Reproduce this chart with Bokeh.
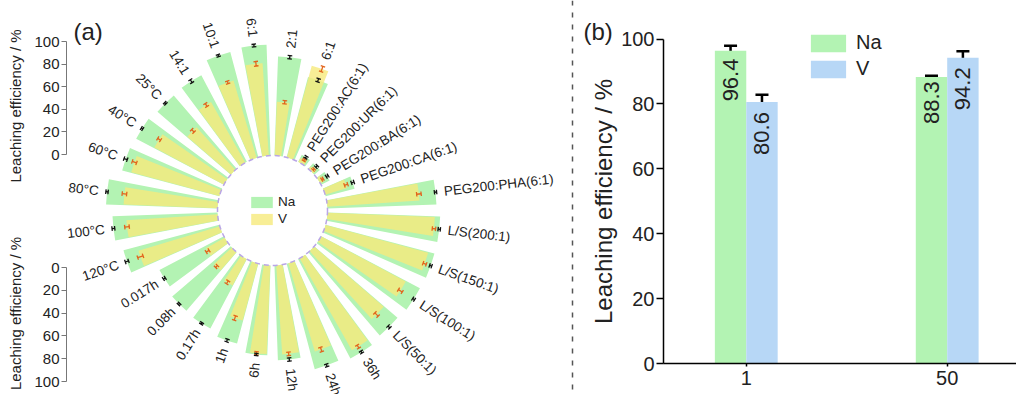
import numpy as np
from bokeh.plotting import figure
from bokeh.models import (ColumnDataSource, Range1d, FixedTicker, Span,
                          Whisker, TeeHead, Spacer)
from bokeh.layouts import row, column
from bokeh.embed import file_html
from bokeh.resources import INLINE
from bokeh.core.properties import value

# ---------------- data: panel (a) (counter-clockwise, starting right of top) -------------
categories = ["2:1", "6:1", "10:1", "14:1", "25°C", "40°C", "60°C", "80°C", "100°C", "120°C",
              "0.017h", "0.08h", "0.17h", "1h", "6h", "12h", "24h", "36h",
              "L/S(50:1)", "L/S(100:1)", "L/S(150:1)", "L/S(200:1)",
              "PEG200:PHA(6:1)", "PEG200:CA(6:1)", "PEG200:BA(6:1)", "PEG200:UR(6:1)",
              "PEG200:AC(6:1)", "6:1"]
na = [87.8, 98.2, 96.5, 86.5, 85.5, 87.7, 89.0, 98.7, 93.0, 87.8,
      64.4, 68.3, 69.3, 73.2, 79.5, 84.0, 96.6, 99.3,
      97.1, 98.8, 99.6, 99.8,
      96.5, 26.5, 8.5, 6.5, 7.0, 73.5]
v = [47.7, 82.0, 71.4, 61.6, 51.0, 69.8, 80.8, 83.2, 80.9, 75.2,
     19.1, 21.4, 26.4, 52.1, 78.5, 79.0, 81.6, 93.6,
     81.5, 84.9, 94.0, 95.1,
     81.7, 20.3, 3.5, 2.8, 4.0, 84.0]
na_err = [1.5, 1.2, 1.0, 1.5, 0.8, 0.8, 1.5, 1.0, 1.2, 1.5,
          1.0, 0.8, 0.8, 1.2, 1.0, 1.5, 1.2, 1.0,
          1.2, 1.0, 1.0, 1.0,
          1.0, 1.2, 1.0, 1.0, 1.0, 1.5]
v_err = [1.5, 2.0, 1.2, 1.5, 1.5, 1.5, 2.0, 2.0, 2.0, 2.5,
         1.5, 1.2, 1.5, 2.0, 1.5, 1.5, 2.0, 1.5,
         2.0, 2.0, 1.5, 1.5,
         2.0, 1.5, 0.8, 0.8, 0.8, 2.5]
radial_ticks = [0, 20, 40, 60, 80, 100]

# ---------------- data: panel (b) ----------------
groups = ["1", "50"]
na_b = [96.4, 88.3]
v_b = [80.6, 94.2]
na_b_err = [1.5, 0.4]
v_b_err = [2.2, 2.0]
y_ticks_b = [0, 20, 40, 60, 80, 100]
y_title = "Leaching efficiency / %"

FONT = "Liberation Sans"
GREEN = "#b3f3b3"
YELLOW = "#f6ea7c"
BLUE = "#b7d7f6"
TXT = "#222222"

# ---------------- layout geometry (page px) ----------------
TOP, BOTTOM = 0, 394
S = 1.13                 # px per % in panel (a)
CX, CY = 272, 210        # polar centre
R0 = 55 / S              # inner radius (data units)
AX_LEFT, PA_LEFT, PA_RIGHT, PB_RIGHT = 0, 67, 618, 1016
AXIS_X = 66


def axis_fig(height, y_start, y_end):
    f = figure(width=PA_LEFT - AX_LEFT, height=height,
               x_range=Range1d(0, 1), y_range=Range1d(y_start, y_end),
               x_axis_type=None, min_border_left=AXIS_X - AX_LEFT,
               min_border_right=0, min_border_top=0, min_border_bottom=0,
               output_backend="svg", toolbar_location=None,
               outline_line_color=None)
    f.grid.visible = False
    ax = f.yaxis[0]
    ax.bounds = (0, 100)
    ax.ticker = FixedTicker(ticks=radial_ticks)
    ax.axis_label = y_title
    ax.axis_label_text_font = FONT
    ax.axis_label_text_font_size = "15px"
    ax.axis_label_text_font_style = "normal"
    ax.axis_label_text_color = TXT
    ax.axis_label_standoff = 7
    ax.major_label_text_font = FONT
    ax.major_label_text_font_size = "15px"
    ax.major_label_text_color = TXT
    ax.major_label_standoff = 2
    ax.axis_line_color = "#777777"
    ax.major_tick_line_color = "#777777"
    ax.major_tick_out = 5
    ax.major_tick_in = 0
    ax.minor_tick_out = 0
    ax.minor_tick_in = 0
    return f


SPLIT1, SPLIT2 = 211, 232
top_ax = axis_fig(SPLIT1 - TOP, (154 - SPLIT1) / S, (154 - TOP) / S)
S2 = 1.14
bot_ax = axis_fig(BOTTOM - SPLIT2, (BOTTOM - 267) / S2, (SPLIT2 - 267) / S2)
axes_col = column(top_ax, Spacer(width=PA_LEFT - AX_LEFT, height=SPLIT2 - SPLIT1), bot_ax)

# ---------------- panel (a): polar bars ----------------
pa = figure(width=PA_RIGHT - PA_LEFT, height=BOTTOM - TOP,
            x_range=Range1d((PA_LEFT - CX) / S, (PA_RIGHT - CX) / S),
            y_range=Range1d((CY - BOTTOM) / S, (CY - TOP) / S),
            x_axis_type=None, y_axis_type=None, min_border=0,
            output_backend="svg", toolbar_location=None, outline_line_color=None)

n = len(categories)
step = 2 * np.pi / n
theta = np.pi / 2 - step / 2 + np.arange(n) * step
na_a = np.array(na)
v_a = np.array(v)
na_e = np.array(na_err)
v_e = np.array(v_err)

src = ColumnDataSource(dict(
    g_start=theta - 0.34 * step, g_end=theta + 0.34 * step,
    y_start=theta - 0.20 * step, y_end=theta + 0.32 * step,
    r_na=R0 + na_a, r_v=R0 + v_a))

pa.annular_wedge(x=0, y=0, inner_radius=R0, outer_radius="r_na",
                 start_angle="g_start", end_angle="g_end", source=src,
                 fill_color=GREEN, line_color=None, legend_label="Na")
pa.annular_wedge(x=0, y=0, inner_radius=R0, outer_radius="r_v",
                 start_angle="y_start", end_angle="y_end", source=src,
                 fill_color=YELLOW, fill_alpha=0.8, line_color=None, legend_label="V")

pa.circle(x=[0], y=[0], radius=R0, fill_color=None, line_color="#b9a6e6",
          line_dash="5 4", line_width=1.5)


def err_segments(vals, errs):
    c, s = np.cos(theta), np.sin(theta)
    lo, hi = R0 + vals - errs, R0 + vals + errs
    h = 2.3 / S
    x0 = np.concatenate([lo * c, lo * c - h * s, hi * c - h * s])
    y0 = np.concatenate([lo * s, lo * s + h * c, hi * s + h * c])
    x1 = np.concatenate([hi * c, lo * c + h * s, hi * c + h * s])
    y1 = np.concatenate([hi * s, lo * s - h * c, hi * s - h * c])
    return dict(x0=x0, y0=y0, x1=x1, y1=y1)


pa.segment(source=ColumnDataSource(err_segments(v_a, v_e)), x0="x0", y0="y0",
           x1="x1", y1="y1", line_color="#e2641c", line_width=1.3)
pa.segment(source=ColumnDataSource(err_segments(na_a, na_e)), x0="x0", y0="y0",
           x1="x1", y1="y1", line_color="#111111", line_width=1.3)

r_lab = R0 + np.maximum(na_a + na_e, v_a + v_e) + 6.5
cats = np.array(categories)
right = np.cos(theta) >= 0
for mask, align, shift in ((right, "left", 0.0), (~right, "right", np.pi)):
    pa.text(x=(r_lab * np.cos(theta))[mask], y=(r_lab * np.sin(theta))[mask],
            text=list(cats[mask]), angle=(theta - shift)[mask],
            text_align=align, text_baseline="middle",
            text_font=value(FONT), text_font_size="13.5px", text_color=TXT)

leg = pa.legend[0]
leg.location = (248 - PA_LEFT, BOTTOM - 226)
leg.padding = 0
leg.margin = 0
leg.spacing = 2
leg.border_line_color = None
leg.background_fill_alpha = 0
leg.glyph_width = 27
leg.glyph_height = 14
leg.label_height = 14
leg.label_standoff = 3
leg.label_text_font = FONT
leg.label_text_font_size = "13.5px"
leg.label_text_color = TXT

# panel letters, panel (b) y title and the separating dashed line (left of panel b frame)
pa.text(x=[(73 - CX) / S, (583 - CX) / S], y=[(CY - 31) / S] * 2, text=["(a)", "(b)"],
        text_align="left", text_baseline="middle", text_font=value(FONT),
        text_font_size="24px", text_color=TXT)
pa.text(x=[(603 - CX) / S], y=[(CY - 201) / S], text=[y_title], angle=np.pi / 2,
        text_align="center", text_baseline="middle", text_font=value(FONT),
        text_font_size="24px", text_color=TXT)
pa.add_layout(Span(location=(572 - CX) / S, dimension="height",
                   line_color="#555555", line_dash="5 7", line_width=1.5))

# ---------------- panel (b): grouped bars ----------------
FL, FT, FB = 662, 12, 363
G0, G1 = 745, 946.5
unit = G1 - G0
ypx = 324.5 / 100
pb = figure(width=PB_RIGHT - PA_RIGHT, height=BOTTOM - TOP,
            x_range=Range1d(-(G0 - FL) / unit, 1 + (PB_RIGHT - G1) / unit),
            y_range=Range1d(0, (FB - FT) / ypx),
            min_border_left=FL - PA_RIGHT, min_border_right=0,
            min_border_top=FT - TOP, min_border_bottom=BOTTOM - FB,
            output_backend="svg", toolbar_location=None, outline_line_color=None)
pb.grid.visible = False

xg = np.arange(len(groups))
bw = 31.5 / unit
bsrc = ColumnDataSource(dict(
    x_na=xg - bw / 2, x_v=xg + bw / 2,
    na=na_b, v=v_b,
    na_lo=np.array(na_b) - na_b_err, na_hi=np.array(na_b) + na_b_err,
    v_lo=np.array(v_b) - v_b_err, v_hi=np.array(v_b) + v_b_err,
    na_txt=[f"{t:.1f}" for t in na_b], v_txt=[f"{t:.1f}" for t in v_b]))

pb.vbar(x="x_na", top="na", width=bw, source=bsrc, fill_color=GREEN,
        line_color=None, legend_label="Na")
pb.vbar(x="x_v", top="v", width=bw, source=bsrc, fill_color=BLUE,
        line_color=None, legend_label="V")

for base, lo, hi in (("x_na", "na_lo", "na_hi"), ("x_v", "v_lo", "v_hi")):
    pb.add_layout(Whisker(source=bsrc, base=base, lower=lo, upper=hi,
                          line_color="black", line_width=2.5,
                          upper_head=TeeHead(size=13, line_width=2.5, line_color="black"),
                          lower_head=TeeHead(size=13, line_width=2.5, line_color="black")))

for xcol, ycol, tcol in (("x_na", "na_lo", "na_txt"), ("x_v", "v_lo", "v_txt")):
    pb.text(x=xcol, y=ycol, text=tcol, source=bsrc, angle=np.pi / 2,
            text_align="right", text_baseline="middle", y_offset=3,
            text_font=value(FONT), text_font_size="22px", text_color=TXT)

xa = pb.xaxis[0]
xa.ticker = FixedTicker(ticks=list(xg))
xa.major_label_overrides = {int(i): g for i, g in zip(xg, groups)}
xa.major_label_text_font = FONT
xa.major_label_text_font_size = "20px"
xa.major_label_text_color = TXT
xa.major_label_standoff = 4
xa.major_tick_out = 3
xa.major_tick_in = 0
xa.major_tick_line_width = 1.5
xa.minor_tick_out = 0
xa.minor_tick_in = 0
xa.axis_line_width = 1.5
xa.axis_line_color = "black"
xa.major_tick_line_color = "black"

ya = pb.yaxis[0]
ya.ticker = FixedTicker(ticks=y_ticks_b)
ya.bounds = (0, 100)
ya.major_label_text_font = FONT
ya.major_label_text_font_size = "20px"
ya.major_label_text_color = TXT
ya.major_label_standoff = 2
ya.major_tick_out = 7
ya.major_tick_in = 0
ya.minor_tick_out = 0
ya.minor_tick_in = 0
ya.axis_line_width = 1.5
ya.major_tick_line_width = 1.5
ya.axis_line_color = "black"
ya.major_tick_line_color = "black"

lb = pb.legend[0]
lb.location = (805 - FL, FB - 80)
lb.padding = 0
lb.margin = 0
lb.spacing = 3
lb.border_line_color = None
lb.background_fill_alpha = 0
lb.glyph_width = 44
lb.glyph_height = 22
lb.label_height = 22
lb.label_standoff = 6
lb.label_text_font = FONT
lb.label_text_font_size = "20px"
lb.label_text_color = TXT

layout = row(axes_col, column(pa), column(pb))
open("out.html", "w").write(file_html(layout, INLINE))
